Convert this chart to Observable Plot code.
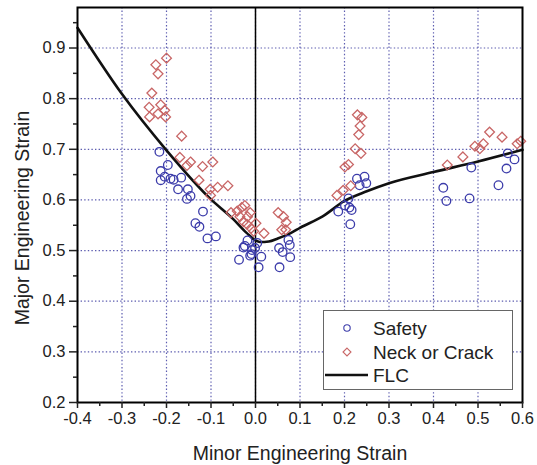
<!DOCTYPE html>
<html>
<head>
<meta charset="utf-8">
<script src="https://cdn.jsdelivr.net/npm/d3@7"></script>
<script src="https://cdn.jsdelivr.net/npm/@observablehq/plot@0.6"></script>
<style>
  html, body { margin: 0; padding: 0; background: #fff; }
  #wrap { position: relative; width: 537px; height: 465px; }
  #legend { position: absolute; left: 323px; top: 310px; width: 190px; height: 80px;
            box-sizing: border-box; border: 1px solid #666; background: #fff; }
</style>
</head>
<body>
<div id="wrap"><div id="legend"></div></div>
<script>
// ---- data ----
const safetyX = [-0.216,-0.213,-0.213,-0.204,-0.197,-0.191,-0.184,-0.167,-0.174,-0.152,-0.154,-0.146,-0.118,-0.135,-0.126,-0.108,-0.089,
  -0.037,-0.027,-0.018,-0.012,-0.008,-0.001,0.004,0.007,0.013,-0.024,-0.009,
  0.053,0.054,0.061,0.074,0.077,0.078,
  0.186,0.201,0.209,0.211,0.216,0.213,0.228,0.234,0.245,0.249,
  0.422,0.429,0.481,0.485,0.546,0.564,0.567,0.582];
const safetyY = [0.695,0.657,0.639,0.646,0.669,0.642,0.640,0.644,0.621,0.621,0.602,0.608,0.577,0.554,0.547,0.524,0.528,
  0.482,0.506,0.520,0.490,0.501,0.505,0.515,0.467,0.488,0.509,0.493,
  0.505,0.467,0.497,0.521,0.511,0.487,
  0.577,0.589,0.603,0.585,0.580,0.552,0.642,0.629,0.646,0.633,
  0.624,0.598,0.603,0.664,0.629,0.662,0.692,0.680];

const neckX = [-0.224,-0.200,-0.219,-0.233,-0.239,-0.238,-0.219,-0.213,-0.204,-0.202,
  -0.166,-0.170,-0.146,-0.154,-0.119,-0.096,-0.127,-0.102,-0.085,-0.062,-0.101,
  -0.055,-0.041,-0.031,-0.024,-0.035,-0.027,-0.018,-0.012,-0.019,-0.010,-0.004,0.001,0.019,
  0.051,0.063,0.069,0.059,0.068,
  0.183,0.197,0.201,0.209,0.214,0.224,0.229,0.239,0.235,0.232,0.237,
  0.431,0.466,0.493,0.504,0.512,0.526,0.554,0.588,0.596];
const neckY = [0.867,0.880,0.849,0.811,0.783,0.764,0.770,0.788,0.777,0.764,
  0.726,0.684,0.675,0.668,0.666,0.675,0.639,0.621,0.625,0.628,0.609,
  0.575,0.578,0.585,0.589,0.567,0.557,0.567,0.575,0.552,0.544,0.538,0.554,0.534,
  0.575,0.567,0.556,0.541,0.541,
  0.609,0.619,0.665,0.670,0.628,0.701,0.768,0.763,0.746,0.729,0.692,
  0.669,0.685,0.706,0.701,0.711,0.734,0.724,0.711,0.716];

const flcX = [-0.4,-0.3,-0.2,-0.1,-0.05,-0.02,0,0.01,0.03,0.05,0.08,0.1,0.15,0.2,0.25,0.3,0.4,0.5,0.6];
const flcY = [0.94,0.809,0.698,0.601,0.562,0.535,0.520,0.517,0.518,0.524,0.535,0.545,0.567,0.598,0.617,0.633,0.655,0.676,0.699];

const xTicks = [-0.4,-0.3,-0.2,-0.1,0,0.1,0.2,0.3,0.4,0.5,0.6];
const xTickLabels = ["-0.4","-0.3","-0.2","-0.1","0.0","0.1","0.2","0.3","0.4","0.5","0.6"];
const xMinor = [-0.35,-0.25,-0.15,-0.05,0.05,0.15,0.25,0.35,0.45,0.55];
const yTicks = [0.2,0.3,0.4,0.5,0.6,0.7,0.8,0.9];
const yTickLabels = ["0.2","0.3","0.4","0.5","0.6","0.7","0.8","0.9"];
const yMinor = [0.25,0.35,0.45,0.55,0.65,0.75,0.85,0.95];
const xTitle = "Minor Engineering Strain";
const yTitle = "Major Engineering Strain";
const seriesNames = ["Safety", "Neck or Crack", "FLC"];
const colors = {safety: "#3c3caa", neck: "#c86666", flc: "#111"};

// ---- tables ----
const safety = safetyX.map((x, i) => ({x, y: safetyY[i]}));
const neck = neckX.map((x, i) => ({x, y: neckY[i]}));
const flc = flcX.map((x, i) => ({x, y: flcY[i]}));

const gridStyle = {stroke: "#5c5cb0", strokeOpacity: 1, strokeWidth: 1.2, strokeDasharray: "1.4,2.2"};

const plot = Plot.plot({
  width: 537, height: 465,
  marginLeft: 77, marginRight: 15, marginTop: 7, marginBottom: 63,
  style: {fontFamily: "'Liberation Sans', Arial, sans-serif", fontSize: "16.5px", color: "#222", background: "#fff"},
  x: {domain: [-0.4, 0.6]},
  y: {domain: [0.2, 0.98]},
  marks: [
    Plot.gridX(xTicks.slice(1, -1), gridStyle),
    Plot.gridY(yTicks.slice(1), gridStyle),
    Plot.ruleX([0], {stroke: "#000", strokeWidth: 1.5}),
    Plot.line(flc, {x: "x", y: "y", stroke: colors.flc, strokeWidth: 2.6, curve: "monotone-x"}),
    Plot.dot(safety, {x: "x", y: "y", r: 4.3, stroke: colors.safety, strokeWidth: 1.3, symbol: "circle"}),
    Plot.dot(neck, {x: "x", y: "y", r: 4.4, stroke: colors.neck, strokeWidth: 1.3, symbol: "diamond2"}),
    Plot.frame({stroke: "#000", strokeWidth: 2}),
    Plot.axisX(xTicks, {tickSize: 6, tickPadding: 4, strokeWidth: 1.5,
      tickFormat: (d, i) => xTickLabels[i], label: null}),
    Plot.axisX(xMinor, {tickSize: 4, strokeWidth: 1.5, tickFormat: () => "", label: null}),
    Plot.axisY(yTicks, {tickSize: 8, tickPadding: 4, strokeWidth: 1.5,
      tickFormat: (d, i) => yTickLabels[i], label: null}),
    Plot.axisY(yMinor, {tickSize: 4, strokeWidth: 1.5, tickFormat: () => "", label: null}),
    Plot.text([xTitle], {text: d => d, frameAnchor: "bottom", lineAnchor: "middle", dy: 51, fontSize: 19.5, fill: "#222"}),
    Plot.text([yTitle], {text: d => d, frameAnchor: "left", textAnchor: "middle", dx: -55, dy: 13, rotate: -90, fontSize: 19.5, fill: "#222"})
  ]
});
document.getElementById("wrap").prepend(plot);

// ---- legend ----
const lg = d3.select("#legend").append("svg").attr("width", 188).attr("height", 78)
  .style("font-family", "'Liberation Sans', Arial, sans-serif");
lg.append("circle").attr("cx", 23).attr("cy", 17).attr("r", 3.2)
  .attr("fill", "none").attr("stroke", colors.safety).attr("stroke-width", 1.1);
lg.append("path").attr("d", d3.symbol(d3.symbolDiamond2, 40)()).attr("transform", "translate(23,41)")
  .attr("fill", "none").attr("stroke", colors.neck).attr("stroke-width", 1.1);
lg.append("line").attr("x1", 1).attr("x2", 44).attr("y1", 64).attr("y2", 64)
  .attr("stroke", colors.flc).attr("stroke-width", 2.6);
[17, 41, 64].forEach((y, i) => {
  lg.append("text").attr("x", 49).attr("y", y).attr("dy", "0.35em")
    .attr("font-size", 19).attr("fill", "#222").text(seriesNames[i]);
});
</script>
</body>
</html>
